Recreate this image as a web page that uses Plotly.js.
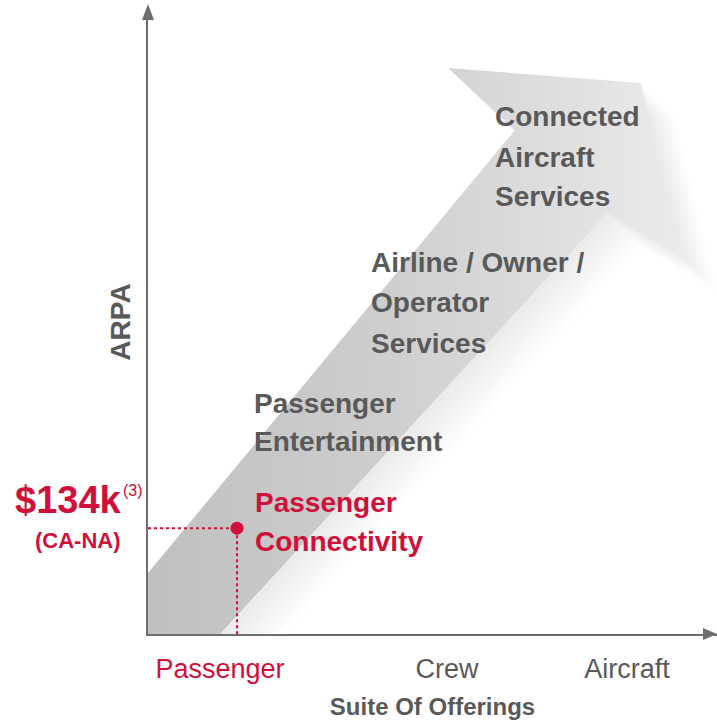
<!DOCTYPE html>
<html>
<head>
<meta charset="utf-8">
<script src="https://cdn.plot.ly/plotly-3.0.1.min.js"></script>
<style>
html,body{margin:0;padding:0;background:#ffffff;}
#chart{width:717px;height:726px;}
</style>
</head>
<body>
<div id="chart"></div>
<script>
// ---------------- data ----------------
const offerings = ['Passenger', 'Crew', 'Aircraft'];
const stageLabels = [
  'Passenger<br>Connectivity',
  'Passenger<br>Entertainment',
  'Airline / Owner /<br>Operator<br>Services',
  'Connected<br>Aircraft<br>Services'
];
const arpaK = [134];
const arpaRegion = ['CA-NA'];
const arpaFootnote = ['3'];
const axisTitleX = 'Suite Of Offerings';
const axisTitleY = 'ARPA';

// ---------------- layout helpers ----------------
const W = 717, H = 726, L = 148, R = 0, T = 10, B = 92;
const XR = [0, 10], YR = [0, 790];
const PW = W - L - R, PH = H - T - B;
const dx = p => XR[0] + (p - L) / PW * (XR[1] - XR[0]);
const dy = p => YR[0] + (H - B - p) / PH * (YR[1] - YR[0]);
const paperX = p => (p - L) / PW;
const paperY = p => (H - B - p) / PH;

const RED = '#d0103a';
const GRAY = '#595959';
const AXIS = '#6e6e6e';
const FONT = '"Liberation Sans", Arial, Helvetica, sans-serif';

// offering tick positions and current point position (layout)
const offeringPos = [dx(220), dx(447), dx(627)];
const pointX = dx(237);

// decorative growth arrow outline (pixel geometry of the artwork)
const arrowPx = [[148,634],[148,573],[515,130],[448,68],[641,83],[683,257],[607,213],[220,634]];

const traces = [];

// soft shadow towards lower-right
for (let k = 1; k <= 10; k++) {
  const ox = k * 3.2, oy = k * 3.2;
  traces.push({
    type: 'scatter', mode: 'lines',
    x: arrowPx.map(p => dx(p[0] + ox)).concat([dx(arrowPx[0][0] + ox)]),
    y: arrowPx.map(p => dy(p[1] + oy)).concat([dy(arrowPx[0][1] + oy)]),
    fill: 'toself', fillcolor: 'rgba(170,170,170,0.028)',
    line: {width: 0}, hoverinfo: 'skip', showlegend: false
  });
}
// main arrow band
traces.push({
  type: 'scatter', mode: 'lines',
  x: arrowPx.map(p => dx(p[0])).concat([dx(arrowPx[0][0])]),
  y: arrowPx.map(p => dy(p[1])).concat([dy(arrowPx[0][1])]),
  fill: 'toself',
  fillcolor: '#d0d0d0',
  fillgradient: {type: 'horizontal', colorscale: [[0, '#c0c0c0'], [0.45, '#cecece'], [1, '#ebebeb']]},
  line: {width: 0}, hoverinfo: 'skip', showlegend: false
});

// dotted guide lines to the current ARPA point
traces.push({
  type: 'scatter', mode: 'lines',
  x: [XR[0], pointX, pointX], y: [arpaK[0], arpaK[0], YR[0]],
  line: {color: RED, width: 2, dash: 'dot'},
  hoverinfo: 'skip', showlegend: false
});
// current point
traces.push({
  type: 'scatter', mode: 'markers',
  x: [pointX], y: [arpaK[0]],
  marker: {color: RED, size: 13},
  hoverinfo: 'skip', showlegend: false
});

// stage label placement (left edge px, line centre px)
const stageLayout = [
  {left: 255, lines: [502, 541], color: RED},
  {left: 254, lines: [403, 441], color: GRAY},
  {left: 371, lines: [262, 302, 343], color: GRAY},
  {left: 495, lines: [116, 157, 196], color: GRAY}
];

const annotations = [];
stageLabels.forEach((lab, i) => {
  const parts = lab.split('<br>');
  const st = stageLayout[i];
  parts.forEach((t, j) => {
    annotations.push({
      x: dx(st.left - 2), y: dy(st.lines[j]), xref: 'x', yref: 'y',
      text: t, showarrow: false, xanchor: 'left', yanchor: 'middle',
      font: {family: FONT, size: 28, color: st.color, weight: 'bold'}
    });
  });
});

// value label at the point (left of the y axis, so x in paper units)
annotations.push({
  x: paperX(68.5), y: arpaK[0], xref: 'paper', yref: 'y', yshift: 28,
  text: '$' + arpaK[0] + 'k', showarrow: false, xanchor: 'center', yanchor: 'middle',
  font: {family: FONT, size: 38, color: RED, weight: 'bold'}
});
annotations.push({
  x: paperX(133), y: arpaK[0], xref: 'paper', yref: 'y', yshift: 38,
  text: '(' + arpaFootnote[0] + ')', showarrow: false, xanchor: 'center', yanchor: 'middle',
  font: {family: FONT, size: 16, color: RED}
});
annotations.push({
  x: paperX(78), y: arpaK[0], xref: 'paper', yref: 'y', yshift: -12,
  text: '(' + arpaRegion[0] + ')', showarrow: false, xanchor: 'center', yanchor: 'middle',
  font: {family: FONT, size: 22, color: RED, weight: 'bold'}
});

// axis arrowheads
const shapes = [
  {type: 'path', xref: 'paper', yref: 'paper',
   path: `M ${paperX(142)} ${paperY(20)} L ${paperX(148)} ${paperY(4)} L ${paperX(154)} ${paperY(20)} Z`,
   fillcolor: AXIS, line: {width: 0}, layer: 'above'},
  {type: 'path', xref: 'paper', yref: 'paper',
   path: `M ${paperX(703)} ${paperY(628)} L ${paperX(717)} ${paperY(634)} L ${paperX(703)} ${paperY(640)} Z`,
   fillcolor: AXIS, line: {width: 0}, layer: 'above'}
];

const layout = {
  width: W, height: H,
  margin: {l: L, r: R, t: T, b: B, pad: 0},
  paper_bgcolor: '#ffffff', plot_bgcolor: '#ffffff',
  showlegend: false,
  font: {family: FONT, color: GRAY},
  xaxis: {
    range: XR, fixedrange: true,
    showgrid: false, zeroline: false,
    showline: true, linecolor: AXIS, linewidth: 2,
    ticks: '', tickvals: offeringPos,
    ticktext: offerings.map((o, i) => i === 0 ? `<span style="color:${RED}">${o}</span>` : o),
    tickfont: {family: FONT, size: 27, color: GRAY},
    ticklabelstandoff: 10,
    title: {text: axisTitleX, font: {family: FONT, size: 24, color: GRAY, weight: 'bold'}, standoff: 15},
    automargin: false
  },
  yaxis: {
    range: YR, fixedrange: true,
    showgrid: false, zeroline: false,
    showline: true, linecolor: AXIS, linewidth: 2,
    ticks: '', showticklabels: false,
    title: {text: axisTitleY, font: {family: FONT, size: 28, color: GRAY, weight: 'bold'}, standoff: 7},
    automargin: false
  },
  annotations: annotations,
  shapes: shapes
};

Plotly.newPlot('chart', traces, layout, {staticPlot: true, displayModeBar: false});
</script>
</body>
</html>
